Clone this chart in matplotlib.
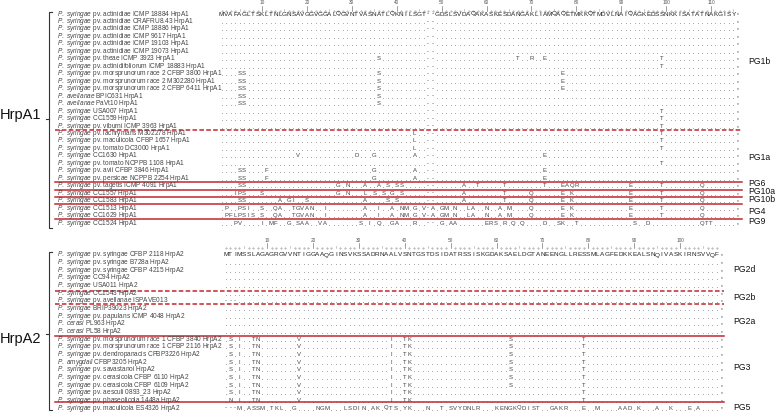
import matplotlib
matplotlib.use("Agg")
import matplotlib.pyplot as plt

plt.rcParams["font.family"] = ["Liberation Sans", "DejaVu Sans"]
plt.rcParams["mathtext.fontset"] = "custom"
plt.rcParams["mathtext.it"] = "Liberation Sans:italic"
plt.rcParams["mathtext.rm"] = "Liberation Sans"

# ---- HrpA1 alignment ----
HRPA1_REF = "MVAFAGLTSKLTNLGNSAVGGVGGALQGVNTVASNATLQKNILSGT--GDSLSVDAQAKASKESDANGAKLIAMQAQETMKKQTMDVLNAIQAGKEDSSNKKISATATNAKGISY"
HRPA1_NAMES = [
    ("syringae", "pv. actinidiae ICMP 18884 HrpA1"),
    ("syringae", "pv. actinidiae CRAFRU8.43 HrpA1"),
    ("syringae", "pv. actinidiae ICMP 18886 HrpA1"),
    ("syringae", "pv. actinidiae ICMP 9617 HrpA1"),
    ("syringae", "pv. actinidiae ICMP 19103 HrpA1"),
    ("syringae", "pv. actinidiae ICMP 19073 HrpA1"),
    ("syringae", "pv. theae ICMP 3923 HrpA1"),
    ("syringae", "pv. actinidifoliorum ICMP 18883 HrpA1"),
    ("syringae", "pv. morsprunorum race 2 CFBP 3800 HrpA1"),
    ("syringae", "pv. morsprunorum race 2 M302280 HrpA1"),
    ("syringae", "pv. morsprunorum race 2 CFBP 6411 HrpA1"),
    ("avellanae", "BPIC631 HrpA1"),
    ("avellanae", "PaVt10 HrpA1"),
    ("syringae", "USA007 HrpA1"),
    ("syringae", "CC1559 HrpA1"),
    ("syringae", "pv. viburni ICMP 3963 HrpA1"),
    ("syringae", "pv. lachrymans M302278 HrpA1"),
    ("syringae", "pv. maculicola CFBP 1657 HrpA1"),
    ("syringae", "pv. tomato DC3000 HrpA1"),
    ("syringae", "CC1630 HrpA1"),
    ("syringae", "pv. tomato NCPPB 1108 HrpA1"),
    ("syringae", "pv. avii CFBP 3846 HrpA1"),
    ("syringae", "pv. persicae NCPPB 2254 HrpA1"),
    ("syringae", "pv. tagetis ICMP 4091 HrpA1"),
    ("syringae", "CC1557 HrpA1"),
    ("syringae", "CC1583 HrpA1"),
    ("syringae", "CC1513 HrpA1"),
    ("syringae", "CC1629 HrpA1"),
    ("syringae", "CC1524 HrpA1"),
]
_pg4 = {41: "N", 42: "M", 44: "G", 46: "V", 48: "A", 50: "G", 51: "M", 53: "N", 56: "L", 57: "A",
        60: "N", 63: "A", 65: "M", 70: "Q", 77: "E", 79: "K", 92: "E", 99: "T", 108: "Q"}
HRPA1_VARIANTS = [
    {}, {}, {}, {}, {}, {},
    {36: "S", 67: "T", 70: "R", 73: "E", 99: "T"},
    {99: "T"},
    {5: "S", 6: "S", 36: "S", 77: "E"},
    {5: "S", 6: "S", 36: "S", 77: "E"},
    {5: "S", 6: "S", 36: "S", 77: "E"},
    {5: "S", 6: "S", 36: "S"},
    {5: "S", 6: "S", 36: "S"},
    {99: "T"}, {99: "T"}, {99: "T"},
    {44: "L", 99: "T"}, {44: "L", 99: "T"}, {44: "L", 99: "T"},
    {18: "V", 31: "D", 35: "G", 44: "A", 73: "E"},
    {99: "T"},
    {5: "S", 6: "S", 11: "F", 35: "G", 44: "A", 73: "E"},
    {5: "S", 6: "S", 11: "F", 35: "G", 44: "A", 73: "E"},
    {5: "S", 6: "S", 27: "G", 29: "N", 33: "A", 36: "A", 38: "S", 40: "S", 41: "S", 55: "A", 58: "T",
     64: "T", 73: "T", 77: "E", 78: "A", 79: "Q", 80: "R", 92: "E", 99: "T", 108: "Q"},
    {4: "I", 5: "P", 6: "S", 10: "S", 27: "G", 29: "N", 33: "L", 35: "S", 37: "S", 39: "G", 41: "S",
     55: "A", 64: "T", 70: "Q", 77: "E", 79: "K", 92: "E", 99: "T", 108: "Q"},
    {5: "S", 6: "S", 14: "A", 16: "G", 17: "I", 20: "S", 33: "A", 38: "S", 40: "S",
     55: "A", 64: "T", 70: "Q", 77: "E", 79: "K", 92: "E", 99: "T", 108: "Q"},
    {2: "P", 5: "P", 6: "S", 7: "I", 10: "S", 13: "Q", 14: "A", 17: "T", 18: "G", 19: "V", 20: "A",
     21: "N", 24: "I", 33: "A", 36: "I", 39: "A", **_pg4},
    {2: "P", 3: "F", 4: "L", 5: "P", 6: "S", 7: "I", 8: "S", 10: "S", 13: "Q", 14: "A", 17: "T",
     18: "G", 19: "V", 20: "A", 21: "N", 24: "I", 33: "A", 36: "I", 39: "A", **_pg4},
    {4: "P", 5: "V", 10: "I", 12: "M", 13: "F", 16: "G", 18: "S", 19: "A", 20: "A", 23: "V", 24: "A",
     32: "S", 34: "I", 36: "Q", 39: "G", 40: "A", 44: "R", 50: "G", 52: "A", 53: "A", 60: "E",
     61: "R", 62: "S", 64: "R", 66: "Q", 68: "Q", 73: "D", 76: "S", 77: "K", 80: "T", 93: "S",
     96: "D", 108: "Q", 109: "T", 110: "T"},
]
HRPA1_GROUPS = [("PG1b", 62), ("PG1a", 158), ("PG6", 183), ("PG10a", 191),
                ("PG10b", 199), ("PG4", 211), ("PG9", 222)]

# ---- HrpA2 alignment ----
HRPA2_REF = "MTIMSSLAGAGRGVVNTIGGAAQGINSVKSSADRNAALVSNTGSTDSIDATRSSISKGDAKSAELDGTANEENGLLRESSMLAGFEDKKEALSNQIVASKIRNSVVQF"
HRPA2_NAMES = [
    ("syringae", "pv. syringae CFBP 2118 HrpA2"),
    ("syringae", "pv. syringae B728a HrpA2"),
    ("syringae", "pv. syringae CFBP 4215 HrpA2"),
    ("syringae", "CC94 HrpA2"),
    ("syringae", "USA011 HrpA2"),
    ("syringae", "CC1543 HrpA2"),
    ("syringae", "pv. avellanae ISPAVE013"),
    ("syringae", "BRIP39023 HrpA2"),
    ("syringae", "pv. papulans ICMP 4048 HrpA2"),
    ("cerasi", "PL963 HrpA2"),
    ("cerasi", "PL58 HrpA2"),
    ("syringae", "pv. morsprunorum race 1 CFBP 3840 HrpA2"),
    ("syringae", "pv. morsprunorum race 1 CFBP 2116 HrpA2"),
    ("syringae", "pv. dendropanacis CFBP3226 HrpA2"),
    ("amygdali", "CFBP3205 HrpA2"),
    ("syringae", "pv. savastanoi HrpA2"),
    ("syringae", "pv. cerasicola CFBP 6110 HrpA2"),
    ("syringae", "pv. cerasicola CFBP 6109 HrpA2"),
    ("syringae", "pv. aesculi 0893_23 HrpA2"),
    ("syringae", "pv. phaseolicola 1448a HrpA2"),
    ("syringae", "pv. maculicola ES4326 HrpA2"),
]
_pg3 = {2: "S", 4: "I", 7: "T", 8: "N", 17: "V", 37: "I", 40: "T", 41: "K", 63: "S", 79: "T"}
_pg3_no_s = {k: v for k, v in _pg3.items() if k != 63}
HRPA2_VARIANTS = [
    {}, {}, {}, {}, {}, {},
    {1: "-", 2: "-", 3: "-"},
    {}, {}, {}, {},
    _pg3, _pg3, _pg3, _pg3, _pg3, _pg3, _pg3,
    _pg3_no_s,
    {**_pg3_no_s, 2: "N"},
    {1: "-", 2: "-", 3: "-", 4: "M", 6: "A", 7: "S", 8: "S", 9: "M", 11: "T", 12: "K", 13: "L",
     16: "G", 21: "N", 22: "G", 23: "M", 27: "L", 28: "S", 29: "D", 30: "I", 31: "N", 33: "A",
     34: "K", 36: "Q", 37: "T", 38: "S", 40: "Y", 41: "K", 45: "N", 48: "T", 50: "S", 51: "V",
     52: "Y", 53: "D", 54: "N", 55: "L", 56: "R", 60: "K", 61: "E", 62: "N", 63: "G", 64: "K",
     65: "Q", 66: "D", 67: "I", 68: "S", 69: "T", 72: "G", 73: "A", 74: "K", 75: "R", 79: "E",
     82: "M", 87: "A", 88: "A", 89: "D", 91: "K", 95: "A", 98: "K", 102: "E", 104: "A"},
]
HRPA2_GROUPS = [("PG2d", 270), ("PG2b", 298), ("PG2a", 321), ("PG3", 368), ("PG5", 408)]

GREY = "#444444"
RED = "#c0272d"


def draw_block(ax, ref, names, variants, y0, dy, x1, dx, ruler_y):
    ncol = len(ref)
    # ruler
    for c in range(1, ncol + 1):
        x = x1 + (c - 1) * dx
        if c % 10 == 0:
            ax.plot([x, x], [ruler_y + 3, ruler_y + 8], color="#777777", lw=0.5)
            ax.text(x, ruler_y, str(c), fontsize=3.4, ha="center", va="center", color="#555555")
        elif c % 5 == 0:
            ax.plot([x, x], [ruler_y + 5.5, ruler_y + 8], color="#999999", lw=0.4)
        else:
            ax.plot(x, ruler_y + 7.5, ".", ms=0.8, color="#999999")
    for i, ((sp, rest), var) in enumerate(zip(names, variants)):
        y = y0 + i * dy
        ax.text(57, y, rf"$P.\ {sp}$ {rest}", fontsize=4.7, va="center", color=GREY)
        dots_x = []
        for c in range(1, ncol + 1):
            x = x1 + (c - 1) * dx
            ch = ref[c - 1]
            if i == 0:
                ax.text(x, y, ch, fontsize=4.6, ha="center", va="center", color="#222222")
            elif c in var:
                ax.text(x, y, var[c], fontsize=4.3, ha="center", va="center", color=GREY)
            elif ch == "-":
                ax.text(x, y, "-", fontsize=4.3, ha="center", va="center", color=GREY)
            else:
                dots_x.append(x)
        if dots_x:
            ax.scatter(dots_x, [y + 1.5] * len(dots_x), s=0.3, color="#888888", linewidths=0)
        ax.text(x1 + ncol * dx, y + 1, "*", fontsize=3.5, ha="center", va="center", color=GREY)


def bracket(ax, x, ytop, ybot, ymid, label, ylabel):
    ax.plot([x + 3, x, x, x + 3], [ytop, ytop, ybot, ybot], color="#333333", lw=0.8)
    ax.plot([x - 3, x], [ymid, ymid], color="#333333", lw=0.8)
    ax.text(0, ylabel, label, fontsize=10.5, va="center", ha="left", color="#111111")


fig = plt.figure(figsize=(7.78, 4.13), dpi=100)
ax = fig.add_axes([0, 0, 1, 1])
ax.set_xlim(0, 778)
ax.set_ylim(413, 0)
ax.axis("off")

draw_block(ax, HRPA1_REF, HRPA1_NAMES, HRPA1_VARIANTS, 14, 7.47, 221.6, 4.49, 3)
draw_block(ax, HRPA2_REF, HRPA2_NAMES, HRPA2_VARIANTS, 255, 7.65, 225.7, 4.59, 240)

bracket(ax, 49, 12, 228, 119, "HrpA1", 115)
bracket(ax, 49, 252, 410, 334, "HrpA2", 339)

# group separators
for y in [130]:
    ax.plot([55, 742], [y, y], color=RED, lw=1.1, ls=(0, (3, 1.5)))
for y in [182, 190, 197, 204, 219]:
    ax.plot([55, 742], [y, y], color=RED, lw=1.1)
for y in [291, 304]:
    ax.plot([55, 724], [y, y], color=RED, lw=1.1, ls=(0, (3, 1.5)))
for y in [336, 402]:
    ax.plot([55, 724], [y, y], color=RED, lw=1.1)

for label, y in HRPA1_GROUPS:
    ax.text(748, y, label, fontsize=6.2, va="center", color="#111111")
for label, y in HRPA2_GROUPS:
    ax.text(733, y, label, fontsize=6.2, va="center", color="#111111")

fig.savefig("out.png", dpi=100)
